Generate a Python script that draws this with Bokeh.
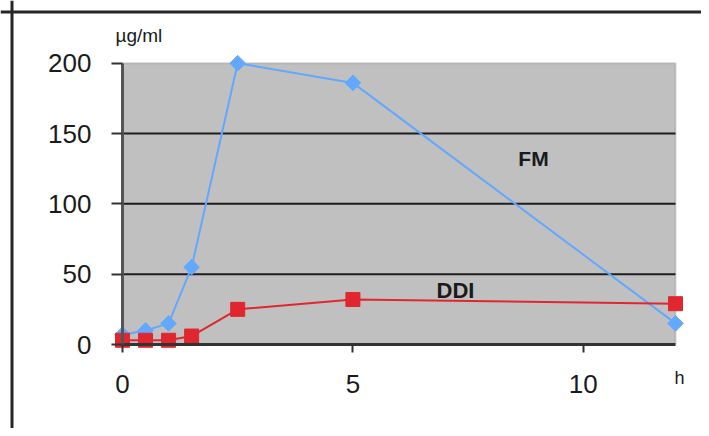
import math
from bokeh.plotting import figure
from bokeh.models import Range1d, FixedTicker, BoxAnnotation, Label, ColumnDataSource, Span
from bokeh.embed import file_html
from bokeh.resources import INLINE

# ---- data ----
hours = [0, 0.5, 1, 1.5, 2.5, 5, 12]
fm_values = [7, 10, 15, 55, 200, 186, 15]
ddi_values = [3, 3, 3, 6, 25, 32, 29]
x_ticks = [0, 5, 10]
y_ticks = [0, 50, 100, 150, 200]
grid_ticks = [50, 100, 150]
series_names = ["FM", "DDI"]
y_unit = "µg/ml"
x_unit = "h"

FONT = "Liberation Sans"

W, H = 701, 428
X0, X12 = 122, 675          # canvas px of x=0 and x=12
Y0, Y200 = 344, 62.7        # canvas px of y=0 and y=200
pxu = (X12 - X0) / 12.0
pyu = (Y0 - Y200) / 200.0

p = figure(width=W, height=H, output_backend="svg", toolbar_location=None,
           x_range=Range1d(-X0 / pxu, 12 + (W - X12) / pxu),
           y_range=Range1d(-(H - Y0) / pyu, 200 + Y200 / pyu),
           min_border_left=0, min_border_right=0,
           min_border_top=0, min_border_bottom=0)
p.outline_line_color = None
p.background_fill_color = "white"
p.border_fill_color = "white"

# outer frame (left and top edges visible)
p.add_layout(Span(location=(11.5 - X0) / pxu, dimension="height",
                  line_color="#262626", line_width=3))
p.add_layout(Span(location=200 + (Y200 - 11.5) / pyu, dimension="width",
                  line_color="#262626", line_width=3))

# gray plot area
box = BoxAnnotation(left=0, right=12, bottom=0, top=200, fill_color="#c0c0c0",
                    fill_alpha=1, line_color="#7a7a7a", line_width=2, level="image")
p.add_layout(box)

# grid lines (only across the plot area)
p.xgrid.visible = False
p.ygrid.visible = False
p.segment(x0=[min(hours)] * len(grid_ticks), x1=[max(hours)] * len(grid_ticks),
          y0=grid_ticks, y1=grid_ticks, line_color="#1e1e1e", line_width=2)

# axes
p.xaxis.fixed_location = 0
p.yaxis.fixed_location = 0
p.xaxis.ticker = FixedTicker(ticks=x_ticks)
p.yaxis.ticker = FixedTicker(ticks=y_ticks)
p.xaxis.bounds = (0, 12)
p.yaxis.bounds = (0, 200)
p.xaxis.minor_tick_line_color = None
p.yaxis.minor_tick_line_color = None
p.xaxis.axis_line_color = "#333333"
p.xaxis.axis_line_width = 3
p.yaxis.axis_line_color = "#555555"
p.yaxis.axis_line_width = 3
p.xaxis.major_tick_line_color = "#333333"
p.yaxis.major_tick_line_color = "#333333"
p.xaxis.major_tick_line_width = 2
p.yaxis.major_tick_line_width = 2
p.xaxis.major_tick_in = 0
p.yaxis.major_tick_in = 0
p.xaxis.major_tick_out = 8
p.yaxis.major_tick_out = 11
p.xaxis.major_label_standoff = 22
p.yaxis.major_label_standoff = 20
for ax in (p.xaxis, p.yaxis):
    ax.major_label_text_font = FONT
    ax.major_label_text_font_size = "26px"
    ax.major_label_text_color = "#1a1a1a"

# series
src = ColumnDataSource(dict(x=hours, fm=fm_values, ddi=ddi_values))
blue = "#62a8ff"
red = "#e0262e"
p.line("x", "fm", source=src, line_color=blue, line_width=2)
p.scatter("x", "fm", source=src, marker="square", size=11, angle=math.pi / 4,
          fill_color=blue, line_color=blue)
p.line("x", "ddi", source=src, line_color=red, line_width=2)
p.scatter("x", "ddi", source=src, marker="square", size=14, fill_color=red, line_color=red)

# texts
p.add_layout(Label(x=-0.152, y=219.6, text=y_unit, text_font=FONT, text_font_size="19px",
                   text_color="#1a1a1a", text_align="left", text_baseline="middle"))
p.add_layout(Label(x=12.087, y=-23.5, text=x_unit, text_font=FONT, text_font_size="18px",
                   text_color="#1a1a1a", text_align="center", text_baseline="alphabetic"))
p.add_layout(Label(x=8.918, y=132.5, text=series_names[0], text_font=FONT, text_font_size="21px",
                   text_font_style="bold", text_color="#1a1a1a", text_align="center",
                   text_baseline="middle"))
p.add_layout(Label(x=7.226, y=38.6, text=series_names[1], text_font=FONT, text_font_size="22px",
                   text_font_style="bold", text_color="#1a1a1a", text_align="center",
                   text_baseline="middle"))

open("out.html", "w").write(file_html(p, INLINE))
